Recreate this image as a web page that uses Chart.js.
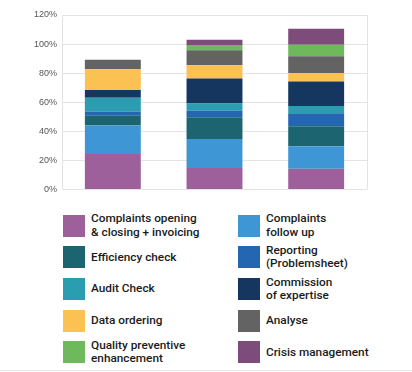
<!DOCTYPE html>
<html>
<head>
<meta charset="utf-8">
<script src="https://cdn.jsdelivr.net/npm/chart.js@4"></script>
<style>
  body { margin: 0; background: #fff; width: 412px; height: 372px; overflow: hidden; position: relative; }
  #wrap { position: absolute; left: 0; top: 0; width: 412px; height: 200px; }
  #legend {
    position: absolute; left: 63px; top: 214px;
    display: grid; grid-template-columns: 175px 150px; grid-auto-rows: 31.7px;
    font-family: Roboto, "Liberation Sans", sans-serif; font-weight: 500;
    font-size: 11.8px; line-height: 13.3px; color: #1a1a1a;
  }
  .item { display: flex; align-items: center; height: 23px; }
  .box { width: 22px; height: 22px; flex: none; margin-right: 6px; }
  .txt { white-space: pre-line; }
  #rule { position: absolute; left: 0; top: 370px; width: 412px; height: 1px; background: #e6e6e6; }
</style>
</head>
<body>
<div id="wrap"><canvas id="myChart" width="412" height="200"></canvas></div>
<div id="legend"></div>
<div id="rule"></div>
<script>
const categories = ["1", "2", "3"];
const seriesLabels = [
  "Complaints opening\n& closing + invoicing",
  "Complaints\nfollow up",
  "Efficiency check",
  "Reporting\n(Problemsheet)",
  "Audit Check",
  "Commission\nof expertise",
  "Data ordering",
  "Analyse",
  "Quality preventive\nenhancement",
  "Crisis management"
];
const seriesColors = [
  "#9e609b", "#3f96d4", "#1b6470", "#2467b0", "#2a9db1",
  "#15365f", "#fcc153", "#636363", "#6db95b", "#7d4c7b"
];
const complaintsOpening = [24.5, 14.8, 14.3];
const complaintsFollowUp = [19.6, 20, 15.5];
const efficiencyCheck = [6.6, 15, 13.8];
const reporting = [2.9, 4.5, 8.9];
const auditCheck = [9.6, 4.8, 5];
const commission = [5.2, 17.3, 16.8];
const dataOrdering = [14.3, 9.1, 5.9];
const analyse = [6.6, 10.2, 11.4];
const qualityPreventive = [0, 3.6, 7.9];
const crisisManagement = [0, 3.7, 11];
const yTicks = [0, 20, 40, 60, 80, 100, 120];

const seriesValues = [
  complaintsOpening, complaintsFollowUp, efficiencyCheck, reporting, auditCheck,
  commission, dataOrdering, analyse, qualityPreventive, crisisManagement
];

const rightBorder = {
  id: "rightBorder",
  afterDraw(chart) {
    const { ctx, chartArea } = chart;
    ctx.save();
    ctx.strokeStyle = "#e3e3e3";
    ctx.lineWidth = 1;
    ctx.beginPath();
    ctx.moveTo(Math.round(chartArea.right) + 0.5, chartArea.top);
    ctx.lineTo(Math.round(chartArea.right) + 0.5, chartArea.bottom);
    ctx.stroke();
    ctx.restore();
  }
};

const ctx = document.getElementById("myChart");
new Chart(ctx, {
  type: "bar",
  data: {
    labels: categories,
    datasets: seriesValues.map((vals, i) => ({
      label: seriesLabels[i].replace("\n", " "),
      data: vals,
      backgroundColor: seriesColors[i],
      borderWidth: 0,
      categoryPercentage: 1,
      barPercentage: 0.55
    }))
  },
  options: {
    responsive: false,
    animation: false,
    devicePixelRatio: 1,
    layout: { padding: { top: 15, right: 45, bottom: 1, left: 0 } },
    plugins: { legend: { display: false }, tooltip: { enabled: false } },
    scales: {
      x: {
        stacked: true,
        grid: { display: false },
        border: { display: false },
        ticks: { display: false }
      },
      y: {
        stacked: true,
        min: 0,
        max: 120,
        afterBuildTicks: (scale) => { scale.ticks = yTicks.map(v => ({ value: v })); },
        afterFit: (scale) => { scale.width = 62; },
        ticks: {
          callback: (v) => v + "%",
          color: "#555",
          padding: 5,
          font: { family: "Liberation Sans", size: 9 }
        },
        grid: { color: "#e3e3e3", drawTicks: false },
        border: { color: "#e3e3e3" }
      }
    }
  },
  plugins: [rightBorder]
});

const legend = document.getElementById("legend");
seriesLabels.forEach((label, i) => {
  const item = document.createElement("div");
  item.className = "item";
  item.innerHTML = '<span class="box" style="background:' + seriesColors[i] + '"></span><span class="txt"></span>';
  item.querySelector(".txt").textContent = label;
  legend.appendChild(item);
});
</script>
</body>
</html>
